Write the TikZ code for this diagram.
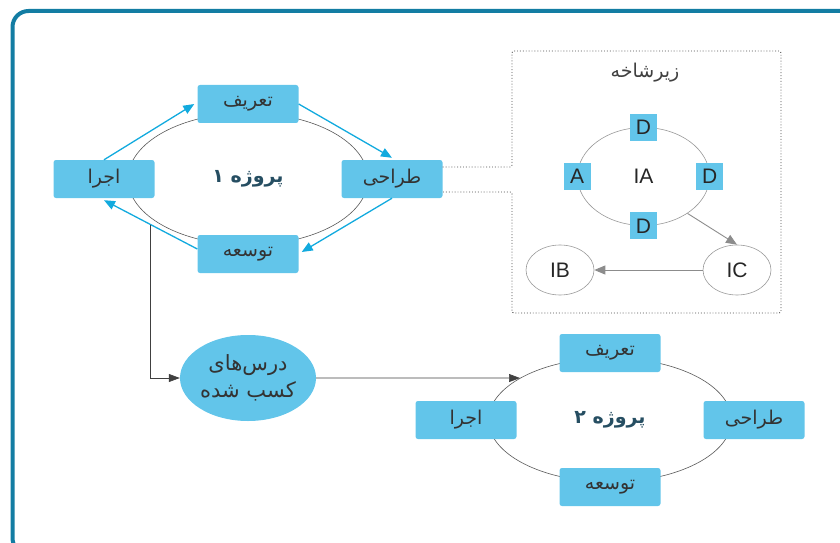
\documentclass[tikz,border=0pt]{standalone}
\usepackage{fontspec}
\setmainfont{Liberation Sans}
\newfontfamily\persianfont[Script=Arabic]{DejaVu Sans}
\TeXXeTstate=1
\usetikzlibrary{shapes.geometric,positioning,arrows.meta}
\definecolor{framecol}{RGB}{19,125,163}
\definecolor{boxcol}{RGB}{98,197,234}
\definecolor{flowcol}{RGB}{18,170,222}
\definecolor{titlecol}{RGB}{38,78,98}
\newcommand{\fa}[1]{{\persianfont\beginR #1\endR}}

\begin{document}
\begin{tikzpicture}[x=1pt,y=1pt,on grid,
  stage/.style={fill=boxcol,rounded corners=2.5pt,minimum width=101pt,minimum height=38pt,inner sep=0pt,font=\fontsize{19}{22}\selectfont,text=black!80},
  ring/.style={draw=black!65,ellipse,line width=0.6pt,inner sep=0pt,font=\bfseries\fontsize{19}{22}\selectfont,text=titlecol},
  flow/.style={draw=flowcol,line width=1.3pt,-{Triangle[length=11pt,width=9pt]}},
  link/.style={draw=black!75,line width=0.6pt,-{Triangle[length=11pt,width=8pt]}},
  tag/.style={fill=boxcol,minimum size=27pt,inner sep=0pt,font=\fontsize{21}{24}\selectfont,text=black!85},
  unit/.style={draw=black!40,ellipse,line width=0.6pt,minimum width=68pt,minimum height=50pt,inner sep=0pt,font=\fontsize{21}{24}\selectfont,text=black!85},
  sublink/.style={draw=black!45,line width=0.9pt,-{Triangle[length=11pt,width=9pt]}},
  lesson/.style={fill=boxcol,ellipse,minimum width=136pt,minimum height=86pt,inner sep=0pt,align=center,font=\fontsize{21}{27}\selectfont,text=black!80}]

\useasboundingbox (0,0) rectangle (840,542);
\draw[framecol,line width=4pt,rounded corners=16pt] (12.5,-12) rectangle (900,531);

\node[ring,minimum width=240pt,minimum height=132pt] at (248,363) (p1) {\fa{پروژه ۱}};
\node[stage, above=75pt of p1] (tarif1) {\fa{تعریف}};
\node[stage, right=144pt of p1] (tarahi1) {\fa{طراحی}};
\node[stage, below=75pt of p1] (tose1) {\fa{توسعه}};
\node[stage, left=144pt of p1] (ejra1) {\fa{اجرا}};

\draw[flow] (ejra1.north) -- ([xshift=-3pt]tarif1.west);
\draw[flow] (tarif1.east) -- ([yshift=2pt]tarahi1.north);
\draw[flow] (tarahi1.south) -- ([xshift=3pt,yshift=2pt]tose1.east);
\draw[flow] ([yshift=5pt]tose1.west) -- coordinate[pos=0.5] (branch) ([yshift=-2pt]ejra1.south);

\draw[dotted,black!70,line width=0.9pt,rounded corners=2pt] ([yshift=12pt]tarahi1.east) -- (512,375) |- (781,491) |- (512,229) -- (512,350) -- ([yshift=-13pt]tarahi1.east);
\node[text=black!75,font=\fontsize{19}{22}\selectfont] at (645,469) (subtitle) {\fa{زیرشاخه}};

\node[unit,minimum width=132pt,minimum height=98pt] at (643.5,365.5) (ia) {IA};
\node[tag] at (ia.north) (dtop) {D};
\node[tag] at (ia.east) (dright) {D};
\node[tag] at (ia.south) (dbottom) {D};
\node[tag] at (ia.west) (aleft) {A};
\node[unit] at (737,272) (ic) {IC};
\node[unit, left=177pt of ic] (ib) {IB};
\draw[sublink] (ia.-40) -- (ic.north);
\draw[sublink] (ic) -- (ib);

\node[lesson] at (248,164) (lessons) {\fa{درس‌های}\\\fa{کسب شده}};
\draw[link] (branch) |- (lessons.west);

\node[ring,minimum width=243pt,minimum height=124pt] at (610,122) (p2) {\fa{پروژه ۲}};
\node[stage, above=67pt of p2] (tarif2) {\fa{تعریف}};
\node[stage, right=144pt of p2] (tarahi2) {\fa{طراحی}};
\node[stage, below=67pt of p2] (tose2) {\fa{توسعه}};
\node[stage, left=144pt of p2] (ejra2) {\fa{اجرا}};

\draw[link] (lessons.east) -- (p2.155);
\end{tikzpicture}
\end{document}
